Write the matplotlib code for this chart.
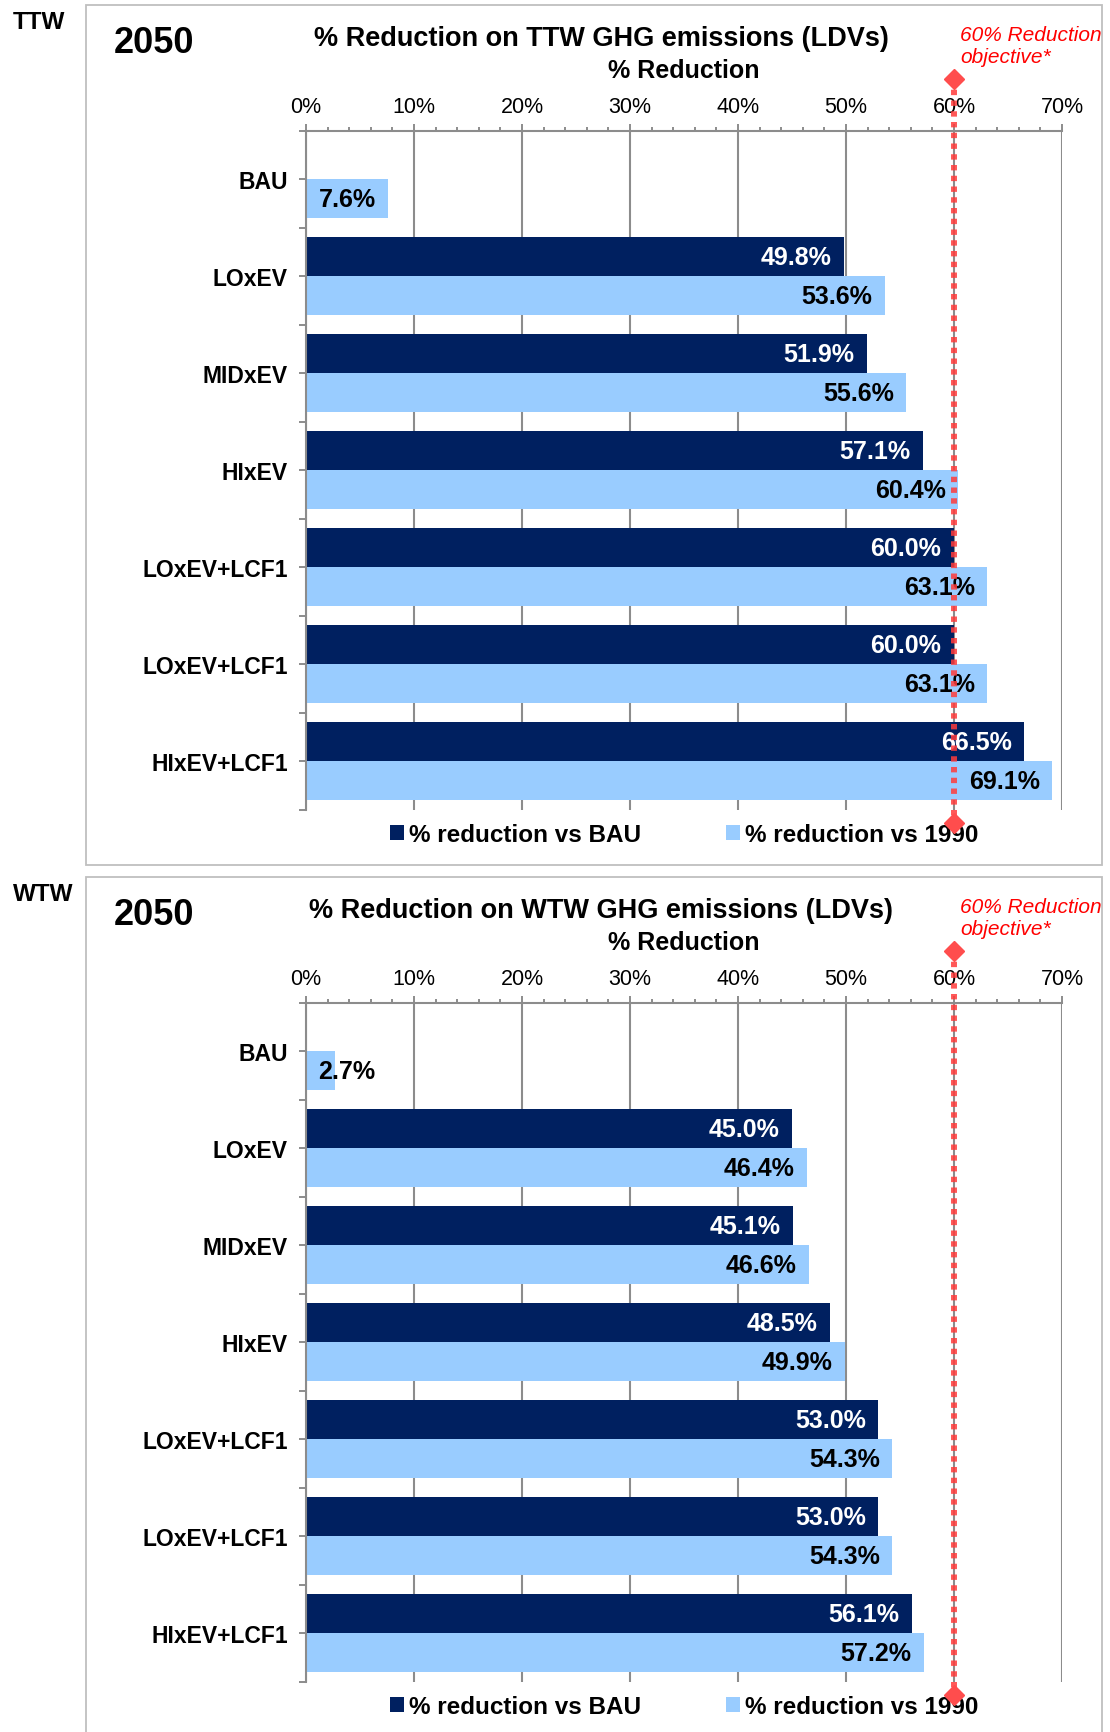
import matplotlib
matplotlib.use('Agg')
import matplotlib.pyplot as plt
from matplotlib.patches import Rectangle
from matplotlib.ticker import MultipleLocator, FuncFormatter

plt.rcParams['font.family'] = ['Liberation Sans', 'DejaVu Sans']

# data
scenarios = ['BAU', 'LOxEV', 'MIDxEV', 'HIxEV', 'LOxEV+LCF1', 'LOxEV+LCF1', 'HIxEV+LCF1']
ttw_vs_bau = [0.0, 49.8, 51.9, 57.1, 60.0, 60.0, 66.5]
ttw_vs_1990 = [7.6, 53.6, 55.6, 60.4, 63.1, 63.1, 69.1]
wtw_vs_bau = [0.0, 45.0, 45.1, 48.5, 53.0, 53.0, 56.1]
wtw_vs_1990 = [2.7, 46.4, 46.6, 49.9, 54.3, 54.3, 57.2]
objective = 60
series_names = ['% reduction vs BAU', '% reduction vs 1990']

NAVY = '#002060'
LIGHT = '#99ccff'
GRID = '#8c8c8c'
RED = '#ff3b3b'

W, H = 1110, 1733
fig = plt.figure(figsize=(W / 100, H / 100), dpi=100)


def fx(px):
    return px / W


def fy(py):
    return 1 - py / H


def panel(dy, tag, v_bau, v_1990):
    # frame around each chart
    fig.patches.append(Rectangle((fx(86), fy(dy + 866)), fx(1102) - fx(86), fy(dy + 6) - fy(dy + 866),
                                 transform=fig.transFigure, fill=False, ec='#bfbfbf', lw=1.3))
    fig.text(fx(13), fy(dy + 29), tag, fontsize=17.5, fontweight='bold', va='baseline')
    fig.text(fx(114), fy(dy + 53), '2050', fontsize=26, fontweight='bold', va='baseline')
    fig.text(fx(601), fy(dy + 46.5), '% Reduction on ' + tag + ' GHG emissions (LDVs)',
             fontsize=19.5, fontweight='bold', ha='center', va='baseline')
    fig.text(fx(684), fy(dy + 78), '% Reduction', fontsize=18, fontweight='bold',
             ha='center', va='baseline')
    fig.text(fx(960), fy(dy + 41), '60% Reduction', fontsize=15, style='italic',
             color='red', va='baseline')
    fig.text(fx(960), fy(dy + 63), 'objective*', fontsize=15, style='italic',
             color='red', va='baseline')

    top = dy + 131.7
    ax = fig.add_axes([fx(306), fy(top + 679), fx(1062) - fx(306), 679 / H])
    n = len(scenarios)
    y = list(range(n))
    h = 0.4
    b1 = ax.barh([i - h / 2 for i in y], v_bau, height=h, color=NAVY, label=series_names[0], zorder=2)
    b2 = ax.barh([i + h / 2 for i in y], v_1990, height=h, color=LIGHT, label=series_names[1], zorder=2)

    for vals, bars, col in ((v_bau, b1, 'white'), (v_1990, b2, 'black')):
        for v, bar in zip(vals, bars):
            if v <= 0:
                continue
            yc = bar.get_y() + bar.get_height() / 2
            if v < 5:
                ax.annotate('%.1f%%' % v, xy=(0, yc), xytext=(9, 0), textcoords='offset points',
                            ha='left', va='center', fontsize=18, fontweight='bold',
                            color=col, zorder=3)
            else:
                ax.annotate('%.1f%%' % v, xy=(v, yc), xytext=(-9, 0), textcoords='offset points',
                            ha='right', va='center', fontsize=18, fontweight='bold',
                            color=col, zorder=3)

    # objective line, runs past the plot area like the excel series
    ax.plot([objective, objective], [-1.03, n - 0.36], color=RED, lw=4.3, ls=(0, (0.9, 0.9)),
            alpha=0.85, clip_on=False, zorder=5)
    ax.plot([objective, objective], [-1.03, n - 0.36], ls='none', marker='D', ms=10.5,
            color='#ff4d4d', clip_on=False, zorder=6)

    ax.set_xlim(0, 70)
    ax.set_ylim(n - 0.5, -0.5)
    ax.xaxis.tick_top()
    ax.xaxis.set_major_locator(MultipleLocator(10))
    ax.xaxis.set_minor_locator(MultipleLocator(2))
    ax.xaxis.set_major_formatter(FuncFormatter(lambda x, p: '%d%%' % x))
    ax.set_yticks(y)
    ax.set_yticklabels(scenarios, fontsize=16.5, fontweight='bold')
    ax.set_yticks([i + 0.5 for i in range(-1, n)], minor=True)
    ax.tick_params(axis='x', which='major', length=5, width=1.4, color=GRID, labelsize=15.5, pad=5)
    ax.tick_params(axis='x', which='minor', length=3, width=1.4, color=GRID)
    ax.tick_params(axis='y', which='both', length=5, width=1.4, color=GRID, pad=8)
    for s in ('bottom', 'right'):
        ax.spines[s].set_visible(False)
    for s in ('top', 'left'):
        ax.spines[s].set_color(GRID)
        ax.spines[s].set_linewidth(1.5)
        ax.spines[s].set_zorder(4)
    ax.grid(axis='x', which='major', color=GRID, lw=1.5, zorder=0)
    ax.set_axisbelow(True)

    ax.legend(loc='center', bbox_to_anchor=(0.5, -0.037), ncol=2, frameon=False,
              prop={'size': 17.5, 'weight': 'bold'}, handlelength=0.57, handleheight=0.57,
              handletextpad=0.2, columnspacing=3.5, borderaxespad=0)
    return ax


panel(0, 'TTW', ttw_vs_bau, ttw_vs_1990)
panel(872, 'WTW', wtw_vs_bau, wtw_vs_1990)

fig.savefig('out.png', dpi=100)
